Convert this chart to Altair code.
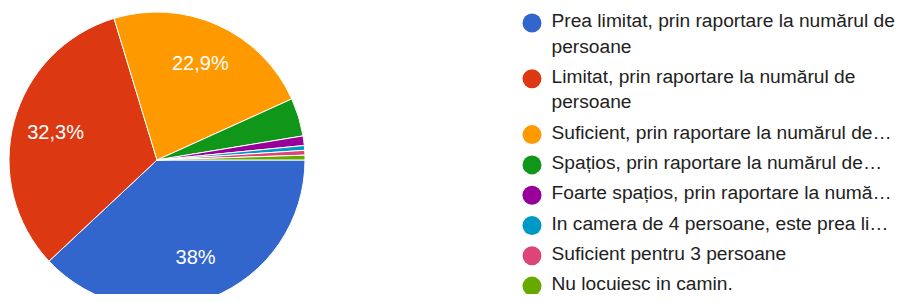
import math
import altair as alt
import pandas as pd

# ---- data ----
categories = [
    "Prea limitat, prin raportare la numărul de\npersoane",
    "Limitat, prin raportare la numărul de\npersoane",
    "Suficient, prin raportare la numărul de…",
    "Spațios, prin raportare la numărul de…",
    "Foarte spațios, prin raportare la numă…",
    "In camera de 4 persoane, este prea li…",
    "Suficient pentru 3 persoane",
    "Nu locuiesc in camin.",
]
counts = [73, 62, 44, 8, 2, 1, 1, 1]
colors = ["#3366cc", "#dc3912", "#ff9900", "#109618",
          "#990099", "#0099c6", "#dd4477", "#66aa00"]

total = sum(counts)


def fmt_pct(c):
    p = round(100.0 * c / total, 1)
    s = (f"{p:.1f}".rstrip("0").rstrip(".")).replace(".", ",")
    return s + "%"


df = pd.DataFrame({
    "cat": categories,
    "count": counts,
    "idx": list(range(len(categories))),
    "pct_label": [fmt_pct(c) if c / total >= 0.1 else "" for c in counts],
})

color_scale = alt.Scale(domain=categories, range=colors)
theta_scale = alt.Scale(range=[math.pi / 2, math.pi / 2 + 2 * math.pi])

base = alt.Chart(df)

CX, CY, R = 149, 152, 148

pie = base.mark_arc(
    x=CX, y=CY, radius=R, stroke="white", strokeWidth=1, clip=True
).encode(
    theta=alt.Theta("count:Q", stack=True, scale=theta_scale),
    color=alt.Color("cat:N", scale=color_scale, legend=None, sort=categories),
    order=alt.Order("idx:Q"),
)

labels = base.mark_text(
    x=CX, y=CY, radius=105, fontSize=20, font="Liberation Sans",
    color="white", align="center", baseline="middle",
).encode(
    theta=alt.Theta("count:Q", stack=True, scale=theta_scale),
    detail="cat:N",
    order=alt.Order("idx:Q"),
    text="pct_label:N",
)

legend_base = base.transform_calculate(
    nl="length(split(datum.cat, '\\n'))"
).transform_window(
    cum="sum(nl)", sort=[alt.SortField("idx")]
).transform_calculate(
    ly="15 + 25.5 * (datum.cum - datum.nl) + 4.8 * datum.idx"
)

legend_sym = legend_base.mark_point(
    filled=True, shape="circle", size=361, opacity=1
).encode(
    x=alt.value(524),
    y=alt.Y("ly:Q", scale=None),
    color=alt.Color("cat:N", scale=color_scale, legend=None),
)

legend_txt = legend_base.mark_text(
    align="left", baseline="top", lineBreak="\n", lineHeight=25.5,
    fontSize=19.2, font="Liberation Sans", color="#222222", dy=-11,
).encode(
    x=alt.value(543.5),
    y=alt.Y("ly:Q", scale=None),
    text="cat:N",
)

chart = alt.layer(pie, labels, legend_sym, legend_txt).properties(
    width=889, height=286,
    autosize=alt.AutoSizeParams(type="none"),
    padding=0,
).configure_view(stroke=None)

chart.save("out.html", embed_options={"renderer": "svg", "actions": False})
